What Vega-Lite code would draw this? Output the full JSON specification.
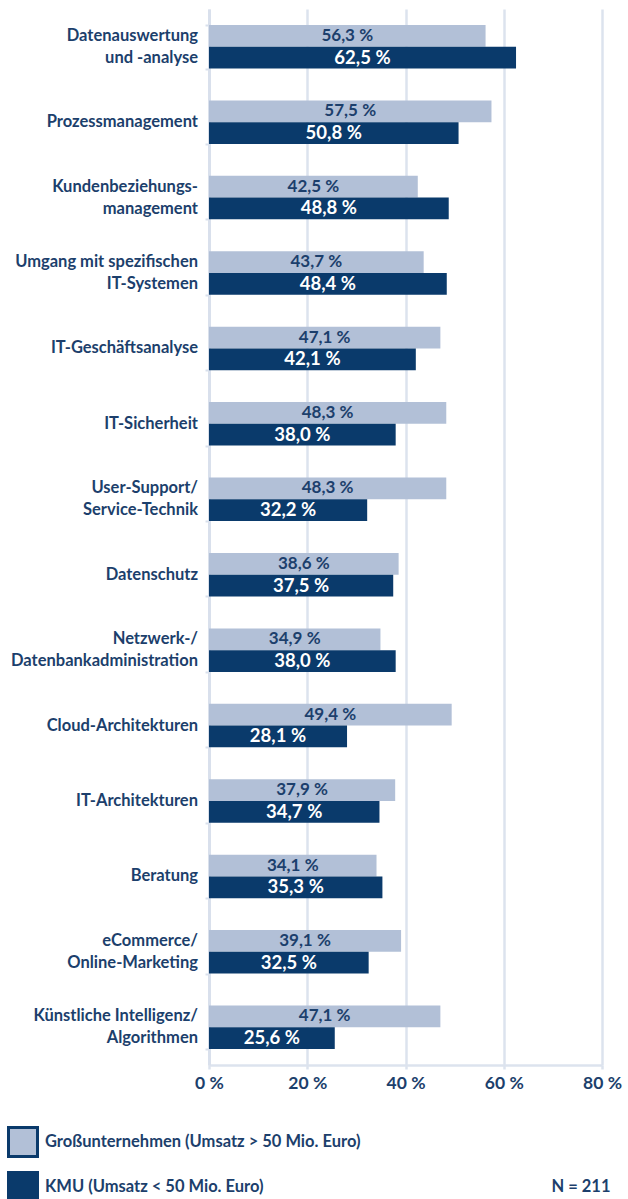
{
  "$schema": "https://vega.github.io/schema/vega-lite/v6.json",
  "autosize": {"type": "none"},
  "width": 393,
  "height": 1056,
  "padding": {"left": 209, "top": 9, "right": 26, "bottom": 134},
  "background": "white",
  "config": {
    "locale": {"number": {"decimal": ",", "thousands": ".", "grouping": [3], "currency": ["", " €"], "percent": "\u202f%"}},
    "view": {"stroke": null},
    "font": "Lato"
  },
  "datasets": {
    "bars": [
      {"c": "Datenauswertung und -analyse", "g": "Großunternehmen (Umsatz > 50 Mio. Euro)", "v": 0.563},
      {"c": "Datenauswertung und -analyse", "g": "KMU (Umsatz < 50 Mio. Euro)", "v": 0.625},
      {"c": "Prozessmanagement", "g": "Großunternehmen (Umsatz > 50 Mio. Euro)", "v": 0.575},
      {"c": "Prozessmanagement", "g": "KMU (Umsatz < 50 Mio. Euro)", "v": 0.508},
      {"c": "Kundenbeziehungsmanagement", "g": "Großunternehmen (Umsatz > 50 Mio. Euro)", "v": 0.425},
      {"c": "Kundenbeziehungsmanagement", "g": "KMU (Umsatz < 50 Mio. Euro)", "v": 0.488},
      {"c": "Umgang mit spezifischen IT-Systemen", "g": "Großunternehmen (Umsatz > 50 Mio. Euro)", "v": 0.437},
      {"c": "Umgang mit spezifischen IT-Systemen", "g": "KMU (Umsatz < 50 Mio. Euro)", "v": 0.484},
      {"c": "IT-Geschäftsanalyse", "g": "Großunternehmen (Umsatz > 50 Mio. Euro)", "v": 0.471},
      {"c": "IT-Geschäftsanalyse", "g": "KMU (Umsatz < 50 Mio. Euro)", "v": 0.421},
      {"c": "IT-Sicherheit", "g": "Großunternehmen (Umsatz > 50 Mio. Euro)", "v": 0.483},
      {"c": "IT-Sicherheit", "g": "KMU (Umsatz < 50 Mio. Euro)", "v": 0.380},
      {"c": "User-Support/Service-Technik", "g": "Großunternehmen (Umsatz > 50 Mio. Euro)", "v": 0.483},
      {"c": "User-Support/Service-Technik", "g": "KMU (Umsatz < 50 Mio. Euro)", "v": 0.322},
      {"c": "Datenschutz", "g": "Großunternehmen (Umsatz > 50 Mio. Euro)", "v": 0.386},
      {"c": "Datenschutz", "g": "KMU (Umsatz < 50 Mio. Euro)", "v": 0.375},
      {"c": "Netzwerk-/Datenbankadministration", "g": "Großunternehmen (Umsatz > 50 Mio. Euro)", "v": 0.349},
      {"c": "Netzwerk-/Datenbankadministration", "g": "KMU (Umsatz < 50 Mio. Euro)", "v": 0.380},
      {"c": "Cloud-Architekturen", "g": "Großunternehmen (Umsatz > 50 Mio. Euro)", "v": 0.494},
      {"c": "Cloud-Architekturen", "g": "KMU (Umsatz < 50 Mio. Euro)", "v": 0.281},
      {"c": "IT-Architekturen", "g": "Großunternehmen (Umsatz > 50 Mio. Euro)", "v": 0.379},
      {"c": "IT-Architekturen", "g": "KMU (Umsatz < 50 Mio. Euro)", "v": 0.347},
      {"c": "Beratung", "g": "Großunternehmen (Umsatz > 50 Mio. Euro)", "v": 0.341},
      {"c": "Beratung", "g": "KMU (Umsatz < 50 Mio. Euro)", "v": 0.353},
      {"c": "eCommerce/Online-Marketing", "g": "Großunternehmen (Umsatz > 50 Mio. Euro)", "v": 0.391},
      {"c": "eCommerce/Online-Marketing", "g": "KMU (Umsatz < 50 Mio. Euro)", "v": 0.325},
      {"c": "Künstliche Intelligenz/Algorithmen", "g": "Großunternehmen (Umsatz > 50 Mio. Euro)", "v": 0.471},
      {"c": "Künstliche Intelligenz/Algorithmen", "g": "KMU (Umsatz < 50 Mio. Euro)", "v": 0.256}
    ],
    "cats": [
      {"c": "Datenauswertung und -analyse", "t": "Datenauswertung|und -analyse", "n": 2},
      {"c": "Prozessmanagement", "t": "Prozessmanagement", "n": 1},
      {"c": "Kundenbeziehungsmanagement", "t": "Kundenbeziehungs-|management", "n": 2},
      {"c": "Umgang mit spezifischen IT-Systemen", "t": "Umgang mit spezifischen|IT-Systemen", "n": 2},
      {"c": "IT-Geschäftsanalyse", "t": "IT-Geschäftsanalyse", "n": 1},
      {"c": "IT-Sicherheit", "t": "IT-Sicherheit", "n": 1},
      {"c": "User-Support/Service-Technik", "t": "User-Support/|Service-Technik", "n": 2},
      {"c": "Datenschutz", "t": "Datenschutz", "n": 1},
      {"c": "Netzwerk-/Datenbankadministration", "t": "Netzwerk-/|Datenbankadministration", "n": 2},
      {"c": "Cloud-Architekturen", "t": "Cloud-Architekturen", "n": 1},
      {"c": "IT-Architekturen", "t": "IT-Architekturen", "n": 1},
      {"c": "Beratung", "t": "Beratung", "n": 1},
      {"c": "eCommerce/Online-Marketing", "t": "eCommerce/|Online-Marketing", "n": 2},
      {"c": "Künstliche Intelligenz/Algorithmen", "t": "Künstliche Intelligenz/|Algorithmen", "n": 2}
    ]
  },
  "encoding": {
    "y": {
      "field": "c", "type": "nominal", "sort": null,
      "scale": {"paddingInner": 0.423, "paddingOuter": 0.212},
      "axis": {
        "title": null, "labels": false,
        "domainColor": "#d9e0ec", "domainWidth": 3,
        "ticks": true, "tickBand": "extent", "tickColor": "#d9e0ec", "tickWidth": 2, "tickSize": 4
      }
    }
  },
  "layer": [
    {
      "data": {"name": "bars"},
      "mark": {"type": "bar"},
      "encoding": {
        "yOffset": {"field": "g", "type": "nominal", "sort": null, "scale": {"paddingInner": 0, "paddingOuter": 0}},
        "x": {
          "field": "v", "type": "quantitative",
          "scale": {"domain": [0, 0.8], "nice": false},
          "axis": {
            "values": [0, 0.2, 0.4, 0.6, 0.8], "format": ".0%",
            "grid": true, "gridColor": "#dce3ee", "gridWidth": 2.5,
            "domainColor": "#dce3ee", "domainWidth": 2.5,
            "tickColor": "#dce3ee", "tickWidth": 2.5, "tickSize": 4,
            "labelFont": "Lato", "labelFontSize": 17.5, "labelFontWeight": "bold", "labelColor": "#1c3f6c",
            "labelPadding": 5, "labelFlush": false,
            "title": "N = 211", "titleAnchor": "end", "titleAlign": "right", "titleBaseline": "middle",
            "titleX": 401, "titleY": 121,
            "titleFont": "Lato", "titleFontSize": 16.5, "titleFontWeight": "bold", "titleColor": "#1c3f6c"
          }
        },
        "color": {
          "field": "g", "type": "nominal", "sort": null,
          "scale": {"range": ["#b2c0d7", "#0a3a6b"]},
          "legend": {
            "title": null, "orient": "none", "legendX": -202, "legendY": 1117, "padding": 0,
            "direction": "vertical",
            "symbolType": "square", "symbolSize": 841,
            "symbolStrokeColor": "#0a3a6b", "symbolStrokeWidth": 3, "symbolOpacity": 1,
            "rowPadding": 3, "labelOffset": 6, "labelLimit": 500,
            "labelFont": "Lato", "labelFontSize": 16.5, "labelFontWeight": "bold", "labelColor": "#1c3f6c"
          }
        }
      }
    },
    {
      "data": {"name": "bars"},
      "transform": [{"calculate": "datum.v / 2", "as": "mid"}],
      "mark": {"type": "text", "align": "center", "baseline": "middle", "font": "Lato", "fontWeight": "bold"},
      "encoding": {
        "yOffset": {"field": "g", "type": "nominal", "sort": null},
        "x": {"field": "mid", "type": "quantitative"},
        "text": {"field": "v", "type": "quantitative", "format": ".1%"},
        "size": {
          "condition": {"test": "datum.g == 'KMU (Umsatz < 50 Mio. Euro)'", "value": 18.5},
          "value": 17
        },
        "color": {
          "condition": {"test": "datum.g == 'KMU (Umsatz < 50 Mio. Euro)'", "value": "#ffffff"},
          "value": "#1c3f6c"
        }
      }
    },
    {
      "data": {"name": "cats"},
      "transform": [{"filter": "datum.n == 2"}],
      "mark": {"type": "text", "align": "right", "baseline": "middle", "dx": -11, "dy": -11, "lineBreak": "|", "lineHeight": 22,
               "font": "Lato", "fontWeight": "bold", "fontSize": 16.5, "color": "#1c3f6c"},
      "encoding": {
        "x": {"datum": 0, "type": "quantitative"},
        "text": {"field": "t", "type": "nominal"}
      }
    },
    {
      "data": {"name": "cats"},
      "transform": [{"filter": "datum.n == 1"}],
      "mark": {"type": "text", "align": "right", "baseline": "middle", "dx": -11,
               "font": "Lato", "fontWeight": "bold", "fontSize": 16.5, "color": "#1c3f6c"},
      "encoding": {
        "x": {"datum": 0, "type": "quantitative"},
        "text": {"field": "t", "type": "nominal"}
      }
    }
  ]
}
